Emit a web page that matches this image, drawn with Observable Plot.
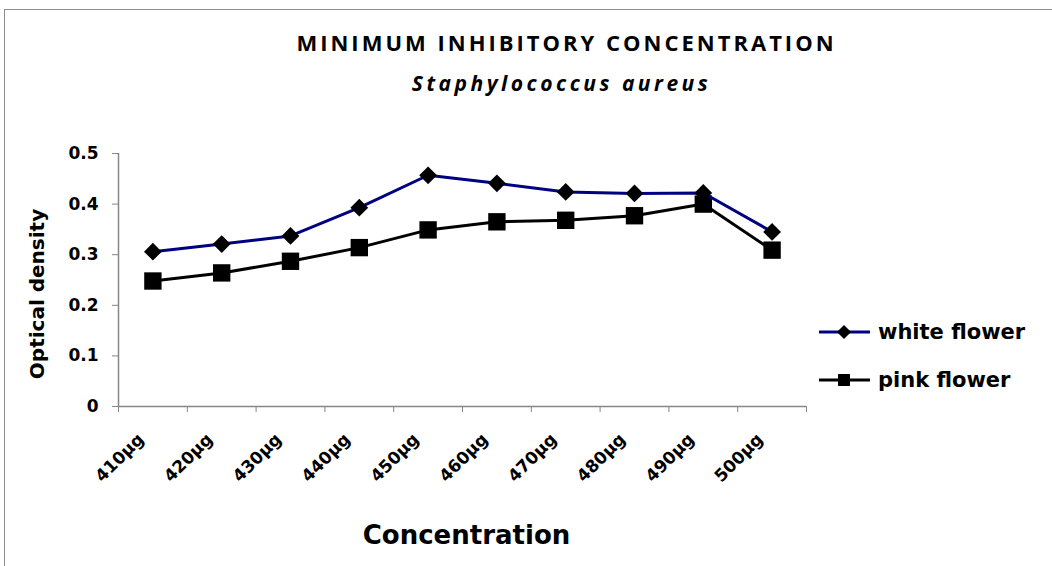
<!DOCTYPE html>
<html><head><meta charset="utf-8">
<script src="https://cdn.jsdelivr.net/npm/d3@7"></script>
<script src="https://cdn.jsdelivr.net/npm/@observablehq/plot@0.6"></script>
<style>
body{margin:0;background:#fff;}
#wrap{position:relative;width:1052px;height:566px;overflow:hidden;background:#fff;font-family:"DejaVu Sans",sans-serif;}
#frame{position:absolute;left:4px;top:9px;width:1100px;height:700px;border:1.5px solid #8c8c8c;box-sizing:border-box;}
#title{position:absolute;left:0;top:29px;width:1133px;text-align:center;font-family:"Open Sans",sans-serif;font-weight:bold;font-size:22px;letter-spacing:3px;line-height:26px;color:#000;}
#subtitle{position:absolute;left:0;top:70px;width:1123px;text-align:center;font-family:"Open Sans",sans-serif;font-weight:bold;font-style:italic;font-size:21px;letter-spacing:3.5px;line-height:26px;color:#000;}
#chart{position:absolute;left:0;top:110px;}
.leg{position:absolute;left:818px;height:24px;display:flex;align-items:center;font-family:"DejaVu Sans",sans-serif;font-weight:bold;font-size:21px;color:#000;}
.leg svg{margin-right:7px;}
</style>
</head><body>
<div id="wrap">
  <div id="frame"></div>
  <div id="title">MINIMUM INHIBITORY CONCENTRATION</div>
  <div id="subtitle">Staphylococcus aureus</div>
  <div id="chart"></div>
  <div id="legend"></div>
</div>
<script>
const categories = ["410μg","420μg","430μg","440μg","450μg","460μg","470μg","480μg","490μg","500μg"];
const whiteFlower = [0.306,0.321,0.337,0.393,0.457,0.441,0.424,0.421,0.422,0.345];
const pinkFlower  = [0.248,0.264,0.287,0.314,0.349,0.365,0.368,0.377,0.400,0.309];
const yTicks = [0,0.1,0.2,0.3,0.4,0.5];
const yTickLabels = ["0","0.1","0.2","0.3","0.4","0.5"];
const seriesNames = ["white flower","pink flower"];
const seriesColors = ["#000080","#000000"];
const seriesSymbols = ["diamond","square"];

const toRows = vals => categories.map((c,i)=>({cat:c, x:i+0.5, y:vals[i]}));
const white = toRows(whiteFlower);
const pink = toRows(pinkFlower);
const boundaries = d3.range(categories.length+1);
const centers = categories.map((c,i)=>i+0.5);

const chart = Plot.plot({
  width:1052, height:456,
  marginTop:43, marginBottom:160, marginLeft:118, marginRight:246,
  style:{fontFamily:"DejaVu Sans", fontWeight:"bold", color:"black", background:"transparent"},
  x:{type:"linear", domain:[0,categories.length]},
  y:{domain:[0,0.5]},
  marks:[
    Plot.ruleX([0],{y1:0,y2:0.5,stroke:"#868686",strokeWidth:1.5}),
    Plot.ruleY([0],{stroke:"#868686",strokeWidth:1.5}),
    Plot.axisY({ticks:yTicks, tickSize:6, tickPadding:14, stroke:"#868686", fill:"black", fontSize:17, fontWeight:"bold", label:null,
      tickFormat:d=>yTickLabels[yTicks.indexOf(d)]}),
    Plot.axisX({ticks:boundaries, tickSize:6, tickFormat:()=>"", stroke:"#868686", label:null}),
    Plot.axisX({ticks:centers, tickSize:0, tickRotate:-45, tickPadding:30, dx:-12, tickFormat:d=>categories[Math.floor(d)], fill:"black", fontSize:17, fontWeight:"bold", label:null}),
    Plot.line(pink,{x:"x",y:"y",stroke:seriesColors[1],strokeWidth:3}),
    Plot.dot(pink,{x:"x",y:"y",symbol:"square",r:9.8,fill:"black",stroke:"none"}),
    Plot.line(white,{x:"x",y:"y",stroke:seriesColors[0],strokeWidth:3}),
    Plot.dot(white,{x:"x",y:"y",symbol:"diamond2",r:8,fill:"black",stroke:"none"}),
    Plot.text(["Optical density"],{frameAnchor:"left", textAnchor:"middle", lineAnchor:"middle", rotate:-90, dx:-81, dy:14, fontSize:20, fontWeight:"bold", fill:"black"}),
    Plot.text(["Concentration"],{frameAnchor:"bottom", textAnchor:"middle", lineAnchor:"middle", dx:4, dy:129, fontSize:26, fontWeight:"bold", fill:"black"})
  ]
});
document.getElementById("chart").appendChild(chart);

// legend
const legend = document.getElementById("legend");
const legTops = [320, 368];
seriesNames.forEach((name,i)=>{
  const d = document.createElement("div");
  d.className = "leg";
  d.style.top = legTops[i] + "px";
  const sym = seriesSymbols[i] === "diamond"
    ? '<polygon points="26,5 33,12 26,19 19,12" fill="black"/>'
    : '<rect x="20" y="6" width="12" height="12" fill="black"/>';
  d.innerHTML = '<svg width="53" height="24"><line x1="1" x2="52" y1="12" y2="12" stroke="'+seriesColors[i]+'" stroke-width="3"/>'+sym+'</svg><span>'+name+'</span>';
  legend.appendChild(d);
});
</script>
</body></html>
